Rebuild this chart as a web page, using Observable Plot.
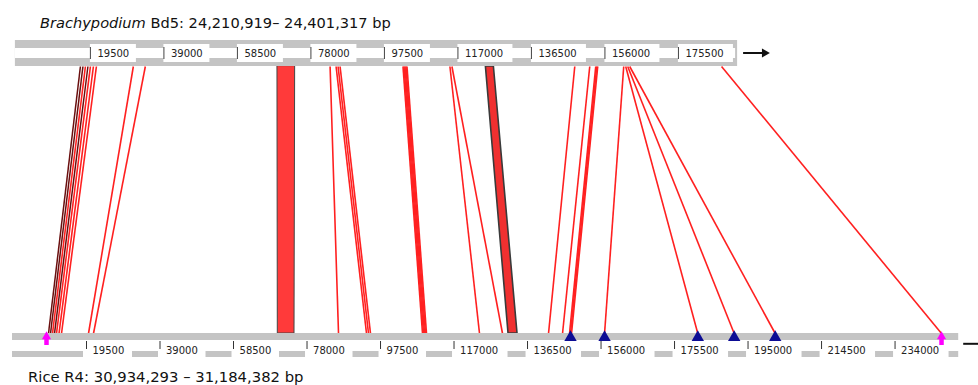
<!DOCTYPE html>
<html><head><meta charset="utf-8">
<script src="https://cdn.jsdelivr.net/npm/d3@7"></script>
<script src="https://cdn.jsdelivr.net/npm/@observablehq/plot@0.6"></script>
<style>
html,body{margin:0;padding:0;background:#fff;}
body{width:978px;height:385px;overflow:hidden;font-family:"DejaVu Sans",sans-serif;color:#111;}
.title{height:20px;padding-top:14px;line-height:18px;font-size:14.6px;padding-left:40px;white-space:nowrap;}
.caption{line-height:18px;font-size:14.8px;padding-left:28px;white-space:nowrap;}
#chart svg{display:block;}
</style></head><body>
<div class="title"><i>Brachypodium</i> Bd5: 24,210,919– 24,401,317 bp</div>
<div id="chart"></div>
<div class="caption">Rice R4: 30,934,293 – 31,184,382 bp</div>
<script>
// ---- data (bp offsets from the start of each region) ----
const brachyStart = 24210919, brachyEnd = 24401317;
const riceStart = 30934293, riceEnd = 31184382;
const brachyTicks = [19500, 39000, 58500, 78000, 97500, 117000, 136500, 156000, 175500];
const riceTicks = [19500, 39000, 58500, 78000, 97500, 117000, 136500, 156000, 175500, 195000, 214500, 234000];
// Bd5 origin sits slightly right of the rice origin on the shared axis (bp)
const brachyOffset = 1035;

// thin syntenic links: Bd5 position -> R4 position
const linkBrachy = [16850, 17513, 18175, 18838, 19500, 20295, 21090,
  30892, 34071,
  83087, 84677, 85206, 85736,
  102426, 102691, 102956, 103221, 103486,
  114878, 115408,
  147994, 151968, 153558, 153823, 154087,
  160983, 161513, 162043, 162573,
  186939];
const linkRice = [9418, 9949, 10479, 11010, 11541, 12204, 12867,
  20030, 21357,
  86356, 93784, 94315, 94845,
  108640, 108905, 109171, 109436, 109701,
  123760, 129862,
  142070, 145784, 147641, 147906, 148172,
  156932, 181671, 191328, 202212,
  246327];
const linkTone = ["dark", "dark", "red", "dark", "red", "red", "red",
  "red", "red", "red", "red", "red", "red", "red", "red", "red", "red", "red",
  "red", "red", "red", "red", "red", "red", "red", "red", "red", "red", "red", "red"];

// wide syntenic blocks
const blockName = ["C", "G"];
const blockBrachyFrom = [69125, 124417];
const blockBrachyTo = [73815, 126536];
const blockRiceFrom = [70252, 131454];
const blockRiceTo = [74682, 133841];

// markers on R4
const triangleRice = [147906, 156932, 181671, 191328, 202212];
const pinkRice = [8888, 246327];

// ---- derived tables ----
const brachyLen = brachyEnd - brachyStart;
const riceLen = riceEnd - riceStart;
const links = linkBrachy.map((b, i) => ({b: b + brachyOffset, r: linkRice[i], tone: linkTone[i]}));
const bands = blockName.flatMap((n, i) => [
  {id: n, y: 1, x1: blockBrachyFrom[i] + brachyOffset, x2: blockBrachyTo[i] + brachyOffset},
  {id: n, y: 0, x1: blockRiceFrom[i], x2: blockRiceTo[i]}
]);
const topSpan = [{x1: brachyOffset, x2: brachyOffset + brachyLen}];
const botSpan = [{x1: 0, x2: riceLen}];
const topTicks = brachyTicks.map(t => ({x: t + brachyOffset, label: String(t)}));
const botTicks = riceTicks.map(t => ({x: t, label: String(t)}));
const starts = [0, ...riceTicks], ends = [...riceTicks, riceLen];
const intervals = starts.map((a, i) => ({a, b: ends[i], len: a === 0 ? 0 : String(a).length, last: i === starts.length - 1}));
const topEnd = [brachyOffset + brachyLen];
const botEnd = [riceLen];

const gray = "#c4c4c4";
const red = "#ff2020";

const chart = Plot.plot({
  width: 978,
  height: 334,
  margin: 0,
  style: {fontFamily: "DejaVu Sans, sans-serif", background: "#fff"},
  x: {domain: [0, riceLen], range: [12.5, 955.2], axis: null},
  y: {domain: [0, 1], range: [299, 32], axis: null},
  marks: [
    // links
    Plot.link(links, {filter: d => d.tone === "red", x1: "b", y1: 1, x2: "r", y2: 0, stroke: red, strokeWidth: 1.6}),
    Plot.link(links, {filter: d => d.tone === "dark", x1: "b", y1: 1, x2: "r", y2: 0, stroke: "#6a0e0e", strokeWidth: 1.5}),
    // blocks
    Plot.areaX(bands, {filter: d => d.id === "C", x1: "x1", x2: "x2", y: "y", z: "id", fill: "#ff3a3a", stroke: "#444", strokeWidth: 1}),
    Plot.areaX(bands, {filter: d => d.id === "G", x1: "x1", x2: "x2", y: "y", z: "id", fill: "#f03030", stroke: "#3a3a3a", strokeWidth: 1.6}),
    // top ruler
    Plot.rect(topSpan, {x1: "x1", x2: "x2", y1: 1, y2: 1, insetTop: -26, insetLeft: -1.5, insetRight: -3, fill: gray}),
    Plot.rect(topSpan, {x1: "x1", x2: "x2", y1: 1, y2: 1, insetTop: -18, insetBottom: 8, insetLeft: -1.5, insetRight: -1, fill: "#fff"}),
    Plot.rect(topTicks, {filter: d => d.label.length === 5, x1: "x", x2: "x", y1: 1, y2: 1, insetTop: -22, insetBottom: 4, insetRight: -46, fill: "#fff"}),
    Plot.rect(topTicks, {filter: d => d.label.length === 6, x1: "x", x2: "x", y1: 1, y2: 1, insetTop: -22, insetBottom: 4, insetRight: -55, fill: "#fff"}),
    Plot.ruleX(topTicks, {x: "x", y1: 1, y2: 1, insetTop: -19, insetBottom: 7, stroke: "#444", strokeWidth: 1}),
    Plot.text(topTicks, {x: "x", y: 1, text: "label", dx: 7, dy: -12.5, textAnchor: "start", fontSize: 10, fill: "#222"}),
    Plot.ruleY(topEnd, {x1: d => d, x2: d => d, y: 1, insetLeft: 9, insetRight: -31, dy: -13.5, stroke: "#111", strokeWidth: 2}),
    Plot.dot(topEnd, {x: d => d, y: 1, symbol: "triangle", rotate: 90, r: 3.4, dx: 30, dy: -13.5, fill: "#111", stroke: "none"}),
    // bottom ruler
    Plot.rect(botSpan, {x1: "x1", x2: "x2", y1: 0, y2: 0, insetBottom: -7, insetLeft: -0.5, insetRight: -3, fill: gray}),
    Plot.rect(intervals, {filter: d => d.len === 0, x1: "a", x2: "b", y1: 0, y2: 0, insetTop: 18, insetBottom: -24, insetLeft: -0.5, insetRight: 3, fill: gray}),
    Plot.rect(intervals, {filter: d => d.len === 5, x1: "a", x2: "b", y1: 0, y2: 0, insetTop: 18, insetBottom: -24, insetLeft: 46, insetRight: 1.5, fill: gray}),
    Plot.rect(intervals, {filter: d => d.len === 6 && !d.last, x1: "a", x2: "b", y1: 0, y2: 0, insetTop: 18, insetBottom: -24, insetLeft: 54, insetRight: 1.5, fill: gray}),
    Plot.rect(intervals, {filter: d => d.last, x1: "a", x2: "b", y1: 0, y2: 0, insetTop: 18, insetBottom: -24, insetLeft: 54, insetRight: -3, fill: gray}),
    Plot.ruleX(botTicks, {x: "x", y1: 0, y2: 0, insetTop: 8, insetBottom: -16, stroke: "#333", strokeWidth: 1}),
    Plot.text(botTicks, {x: "x", y: 0, text: "label", dx: 6, dy: 17.5, textAnchor: "start", fontSize: 10, fill: "#222"}),
    Plot.ruleY(botEnd, {x1: d => d, x2: d => d, y: 0, insetLeft: 8, insetRight: -23, dy: 10.3, stroke: "#111", strokeWidth: 2}),
    // markers
    Plot.dot(triangleRice, {x: d => d, y: 0, symbol: "triangle", r: 4.6, dy: 4, fill: "#0c0c94", stroke: "none"}),
    Plot.ruleX(pinkRice, {x: d => d, y1: 0, y2: 0, insetTop: 5, insetBottom: -12, stroke: "#ff00ff", strokeWidth: 4.5}),
    Plot.dot(pinkRice, {x: d => d, y: 0, symbol: "triangle", r: 3.4, dy: 3, fill: "#ff00ff", stroke: "none"})
  ]
});
document.getElementById("chart").appendChild(chart);
</script></body></html>
